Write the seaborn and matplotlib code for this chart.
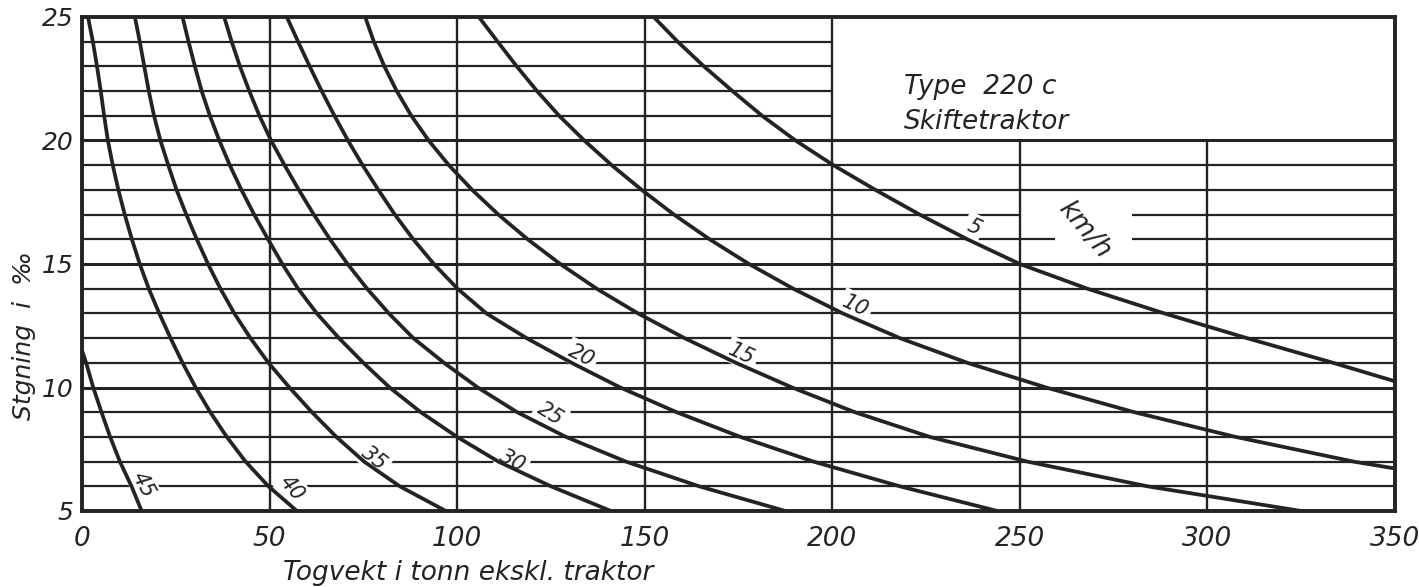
import pandas as pd
import seaborn as sns
import matplotlib.pyplot as plt

# Train weight (t) at whole per-mille grades
speeds = [5, 10, 15, 20, 25, 30, 35, 40, 45]

w_5 = [152.4, 158.8, 165.8, 173.4, 181.3, 190.2, 200.3, 211.5, 223.3, 236, 250, 268, 288.5, 310.5, 333.5, 350]
g_5 = [25, 24, 23, 22, 21, 20, 19, 18, 17, 16, 15, 14, 13, 12, 11, 10.25]

w_10 = [105.8, 110.8, 115.9, 121.3, 127.2, 133.9, 141.2, 149.2, 157.8, 167.3, 177.8, 189.6,
        202.8, 218, 236, 257, 280.5, 307.5, 339, 350]
g_10 = [25, 24, 23, 22, 21, 20, 19, 18, 17, 16, 15, 14, 13, 12, 11, 10, 9, 8, 7, 6.72]

w_15 = [75.5, 77.8, 80.6, 83.9, 87.8, 92.4, 97.8, 104, 111, 118.8, 127.5, 137.2,
        148.2, 160.6, 174.3, 189.3, 206, 226, 252, 284, 325]
g_15 = [25, 24, 23, 22, 21, 20, 19, 18, 17, 16, 15, 14, 13, 12, 11, 10, 9, 8, 7, 6, 5]

w_20 = [54.6, 57.6, 60.7, 63.9, 67.3, 70.9, 74.8, 79.0, 83.4, 88.3, 93.8, 100.1,
        107.8, 118.5, 130.5, 143.5, 158.5, 175.5, 195, 218, 244]
g_20 = g_15

w_25 = [37.9, 39.9, 42.1, 44.6, 47.3, 50.4, 54.0, 57.8, 61.8, 66.1, 70.8, 76.0,
        81.8, 88.3, 96.5, 105.5, 116, 129, 145, 164.5, 187.5]
g_25 = g_15

w_30 = [26.8, 28.4, 30.1, 31.9, 34.1, 36.6, 39.4, 42.5, 45.9, 49.6, 53.4, 57.6,
        62.6, 68.5, 75, 82, 90.3, 100, 111, 125, 141]
g_30 = g_15

w_35 = [14.1, 15.4, 16.6, 17.8, 19.2, 20.9, 23, 25.2, 27.8, 30.6, 33.6, 36.9,
        40.6, 44.9, 49.7, 55.3, 61.3, 67.8, 75.2, 84.7, 97]
g_35 = g_15

w_40 = [1.6, 2.9, 4.0, 5.0, 5.9, 6.9, 8.2, 9.7, 11.4, 13.3, 15.4, 17.8,
        20.6, 23.6, 26.8, 30.3, 34.2, 38.6, 43.6, 49.7, 57.3]
g_40 = g_15

w_45 = [0, 1.1, 3.0, 5.2, 7.5, 10.1, 13.2, 15.9]
g_45 = [11.5, 11, 10, 9, 8, 7, 6, 5]

weights = [w_5, w_10, w_15, w_20, w_25, w_30, w_35, w_40, w_45]
grades = [g_5, g_10, g_15, g_20, g_25, g_30, g_35, g_40, g_45]

df = pd.concat(
    [pd.DataFrame({'weight': w, 'grade': g, 'speed': s}) for s, w, g in zip(speeds, weights, grades)],
    ignore_index=True,
)

x_ticks = [0, 50, 100, 150, 200, 250, 300, 350]
y_ticks = [5, 10, 15, 20, 25]

sns.set_style("white")
plt.rcParams['font.family'] = ['DejaVu Sans']
ink = '#232323'

fig = plt.figure(figsize=(14.19, 5.87), dpi=100)
ax = fig.add_axes([82 / 1419, 1 - 511 / 587, (1395 - 82) / 1419, (511 - 17) / 587])
ax.set_xlim(0, 350)
ax.set_ylim(5, 25)

# grid: 1 per mille horizontally, 50 t vertically; none inside the title box
for g in range(6, 25):
    lw = 2.2 if g % 5 == 0 else 1.6
    right = 200 if g > 20 else 350
    if g == 17:
        segs = [(0, 250), (280, 350)]
    elif g == 16:
        segs = [(0, 259.5), (280, 350)]
    else:
        segs = [(0, right)]
    for a, b in segs:
        ax.hlines(g, a, b, color=ink, lw=lw, zorder=1)
for x in x_ticks[1:-1]:
    top = 20 if x > 200 else 25
    ax.vlines(x, 5, top, color=ink, lw=1.7, zorder=1)

sns.lineplot(data=df, x='weight', y='grade', units='speed', estimator=None,
             sort=False, color=ink, lw=2.7, ax=ax, zorder=3)

# curve labels (km/h)
labels = [("5", 237.7, 16.5, -25), ("10", 206.3, 13.3, -25), ("15", 175.9, 11.35, -25),
          ("20", 133.2, 11.3, -27), ("25", 124.8, 8.93, -32), ("30", 114.8, 7.04, -28),
          ("35", 77.9, 7.13, -38), ("40", 56, 5.92, -50), ("45", 16.4, 6.05, -62)]
for txt, lx, ly, rot in labels:
    ax.text(lx, ly, txt, fontsize=15, style='italic', rotation=rot,
            ha='center', va='center', color=ink, zorder=2,
            bbox=dict(boxstyle='square,pad=0.15', fc='white', ec='none'))
ax.text(267.2, 16.4, "km/h", fontsize=19, style='italic', rotation=-50,
        ha='center', va='center', color=ink, zorder=2)

ax.text(219, 22.15, "Type  220 c", fontsize=19, style='italic', ha='left', va='center', color=ink)
ax.text(219, 20.75, "Skiftetraktor", fontsize=19, style='italic', ha='left', va='center', color=ink)

ax.set_xticks(x_ticks)
ax.set_yticks(y_ticks)
ax.set_xticklabels([str(v) for v in x_ticks], fontsize=19, style='italic', color=ink)
ax.set_yticklabels([str(v) for v in y_ticks], fontsize=18, style='italic', color=ink)
ax.tick_params(axis='both', direction='out', length=5, width=1.6, color=ink)
ax.tick_params(axis='y', pad=1)
ax.tick_params(axis='x', pad=6)
ax.set_xlabel('')
ax.set_ylabel('')
for sp in ax.spines.values():
    sp.set_visible(True)
    sp.set_color(ink)
    sp.set_linewidth(2.8)

fig.text(283 / 1419, 1 - 573 / 587, "Togvekt i tonn ekskl. traktor", fontsize=19,
         style='italic', ha='left', va='center', color=ink)
fig.text(24 / 1419, 1 - 336 / 587, "Stgning  i  ‰", fontsize=18, style='italic',
         rotation=90, ha='center', va='center', color=ink)

fig.savefig('out.png', dpi=100, facecolor='white')
